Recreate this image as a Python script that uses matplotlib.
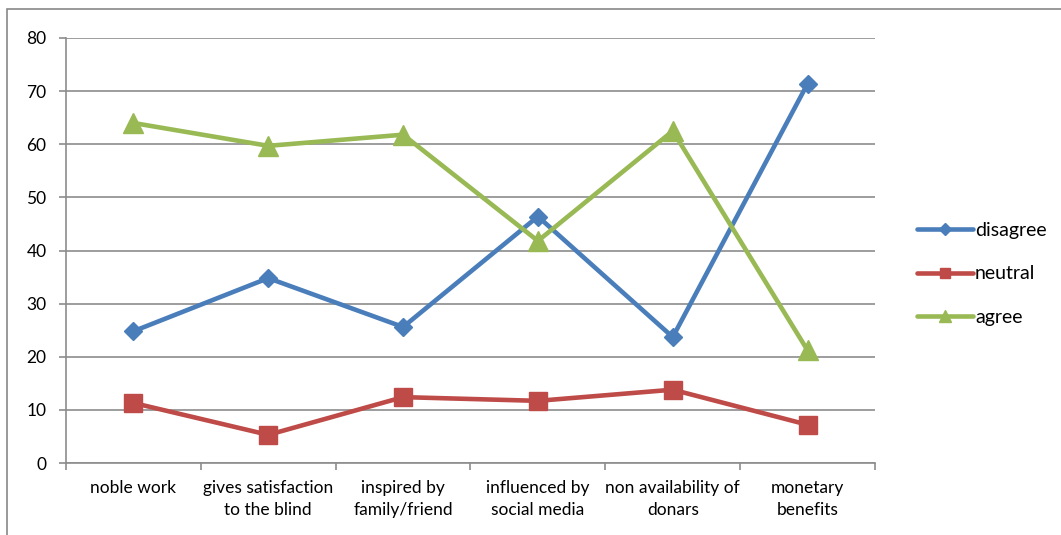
import matplotlib.pyplot as plt
from matplotlib.lines import Line2D
from matplotlib.patches import Rectangle

plt.rcParams['font.family'] = ['Lato', 'DejaVu Sans']

# categories and series values
categories = ['noble work', 'gives satisfaction\nto the blind', 'inspired by\nfamily/friend',
              'influenced by\nsocial media', 'non availability of\ndonars', 'monetary\nbenefits']
disagree = [24.8, 34.8, 25.6, 46.4, 23.7, 71.4]
neutral = [11.3, 5.3, 12.4, 11.7, 13.8, 7.2]
agree = [64.0, 59.7, 61.8, 41.8, 62.5, 21.2]

series = [('disagree', disagree, '#4A7EBB', 'D', 9.5),
          ('neutral', neutral, '#BE4B48', 's', 13),
          ('agree', agree, '#98B954', '^', 14)]

fig = plt.figure(figsize=(10.61, 5.35), dpi=100)
ax = fig.add_axes([66/1061, 1-463/535, (875-66)/1061, (463-38)/535])

# outer chart border
fig.patches.append(Rectangle((7/1061, -0.1), 1.2, 1-9/535+0.1, transform=fig.transFigure,
                             fill=False, edgecolor='#878787', linewidth=1.2))

x = list(range(len(categories)))
handles = []
for name, vals, col, mk, ms in series:
    ax.plot(x, vals, color=col, linewidth=3.3, marker=mk, markersize=ms,
            markeredgecolor=col, clip_on=False, zorder=3)
    handles.append(Line2D([0], [0], color=col, linewidth=3.3, marker=mk,
                          markersize=ms*0.6, markeredgecolor=col,
                          solid_capstyle='round'))

ax.set_xlim(-0.5, len(categories)-0.5)
ax.set_ylim(0, 80)
ax.set_yticks(range(0, 81, 10))
ax.yaxis.grid(True, color='#8c8c8c', linewidth=1.2)
ax.set_axisbelow(True)

ax.set_xticks(x)
ax.set_xticklabels(categories, fontsize=12.5, linespacing=1.5)
ax.set_xticks([i - 0.5 for i in range(len(categories)+1)], minor=True)
ax.tick_params(axis='x', which='major', length=0, pad=12)
ax.tick_params(axis='x', which='minor', length=5, width=1.2, color='#8c8c8c')
ax.tick_params(axis='y', length=5, width=1.2, color='#8c8c8c', labelsize=12.5, pad=9)

for s in ['top', 'right']:
    ax.spines[s].set_visible(False)
for s in ['left', 'bottom']:
    ax.spines[s].set_color('#8c8c8c')
    ax.spines[s].set_linewidth(1.2)

ax.legend(handles, [s[0] for s in series], loc='center left',
          bbox_to_anchor=(1.03, 0.445), frameon=False, fontsize=14,
          handlelength=2.9, handletextpad=0.1, labelspacing=1.35)

fig.savefig('out.png', dpi=100)
